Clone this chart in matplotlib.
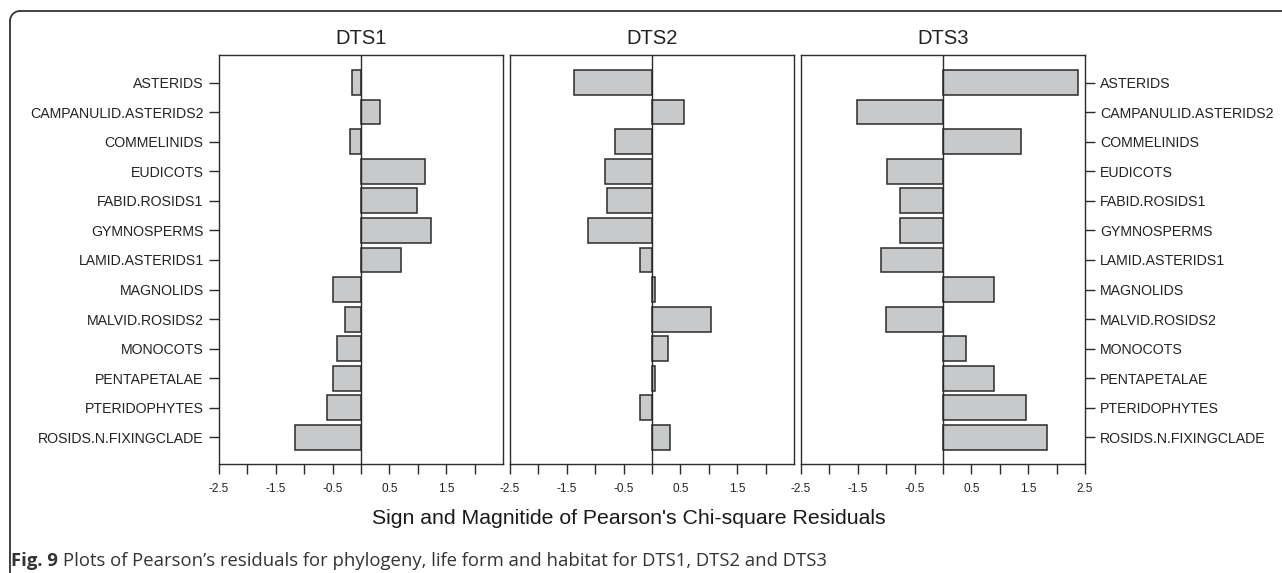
import numpy as np
import matplotlib
matplotlib.use("Agg")
import matplotlib.pyplot as plt
from matplotlib.patches import Arc
from matplotlib.lines import Line2D

plt.rcParams['font.family'] = ['Liberation Sans', 'DejaVu Sans']

# clades and Pearson residuals per data set
clades = ["ASTERIDS", "CAMPANULID.ASTERIDS2", "COMMELINIDS", "EUDICOTS",
          "FABID.ROSIDS1", "GYMNOSPERMS", "LAMID.ASTERIDS1", "MAGNOLIDS",
          "MALVID.ROSIDS2", "MONOCOTS", "PENTAPETALAE", "PTERIDOPHYTES",
          "ROSIDS.N.FIXINGCLADE"]
dts1 = [-0.16, 0.33, -0.20, 1.12, 0.99, 1.23, 0.71, -0.50, -0.28, -0.42,
        -0.50, -0.59, -1.17]
dts2 = [-1.38, 0.56, -0.66, -0.82, -0.80, -1.13, -0.21, 0.06, 1.03, 0.28,
        0.06, -0.21, 0.32]
dts3 = [2.37, -1.51, 1.37, -0.99, -0.76, -0.75, -1.10, 0.90, -1.00, 0.41,
        0.90, 1.47, 1.83]
panels = ["DTS1", "DTS2", "DTS3"]
series = [dts1, dts2, dts3]
tick_vals = [-2.5, -2.0, -1.5, -1.0, -0.5, 0.0, 0.5, 1.0, 1.5, 2.0, 2.5]
tick_text = ["-2.5", "", "-1.5", "", "-0.5", "", "0.5", "", "1.5", "", "2.5"]

W, H = 1282, 573
fig = plt.figure(figsize=(W / 100, H / 100), dpi=100)

dark = "#2b2b2b"
lefts = [219, 510, 801]
pw = 284
top, bottom = 55, 464
y = np.arange(len(clades))

for k, (ax_left, name, vals) in enumerate(zip(lefts, panels, series)):
    ax = fig.add_axes([ax_left / W, 1 - bottom / H, pw / W, (bottom - top) / H])
    ax.barh(y, vals, height=0.84, color="#c8c9cb", edgecolor=dark, linewidth=1.1, zorder=2)
    ax.axvline(0, color=dark, lw=1.0, zorder=3)
    ax.set_xlim(-2.5, 2.5)
    ax.set_ylim(len(clades) - 1 + 0.9, -0.93)
    for s in ax.spines.values():
        s.set_color(dark)
        s.set_linewidth(1.0)
    # last panel carries the 2.5 tick
    n = len(tick_vals) if k == 2 else len(tick_vals) - 1
    ax.set_xticks(tick_vals[:n])
    ax.set_xticklabels(tick_text[:n], fontsize=8.5, color="#222222")
    ax.tick_params(axis="x", direction="out", length=7, width=1.0, color=dark, pad=7)
    ax.set_yticks(y)
    if k == 0:
        ax.set_yticklabels(clades, fontsize=10.2, color="#222222")
        ax.tick_params(axis="y", direction="out", length=7, width=1.0, color=dark, pad=4)
    elif k == 2:
        ax.yaxis.tick_right()
        ax.set_yticklabels(clades, fontsize=10.2, color="#222222")
        ax.tick_params(axis="y", direction="out", length=7, width=1.0, color=dark, pad=4)
    else:
        ax.tick_params(axis="y", length=0, labelleft=False)
    ax.set_title(name, fontsize=14.5, color="#222222", pad=8)

fig.text(629 / W, 1 - 518 / H,
         "Sign and Magnitide of Pearson's Chi-square Residuals",
         ha="center", va="center", fontsize=15.3, color="#1a1a1a")

# rounded frame along the top and left edge
fx, fy, r = 10, 11, 10
frame_kw = dict(color="#333333", lw=1.3, transform=None)
fig.add_artist(Line2D([fx + r, W], [H - fy, H - fy], **frame_kw))
fig.add_artist(Line2D([fx, fx], [0, H - fy - r], **frame_kw))
fig.add_artist(Arc((fx + r, H - fy - r), 2 * r, 2 * r, theta1=90, theta2=180,
                   color="#333333", lw=1.3, transform=None))

cap_y = 1 - 566 / H
t = fig.text(11 / W, cap_y, "Fig. 9", fontsize=13.3, fontweight="bold",
             family=["Open Sans", "DejaVu Sans"], color="#333333", va="baseline")
fig.canvas.draw()
bb = t.get_window_extent()
fig.text((bb.x1 + 5) / W, cap_y,
         "Plots of Pearson\u2019s residuals for phylogeny, life form and habitat for DTS1, DTS2 and DTS3",
         fontsize=13.3, family=["Open Sans", "DejaVu Sans"], color="#333333", va="baseline")

fig.savefig("out.png", dpi=100)
